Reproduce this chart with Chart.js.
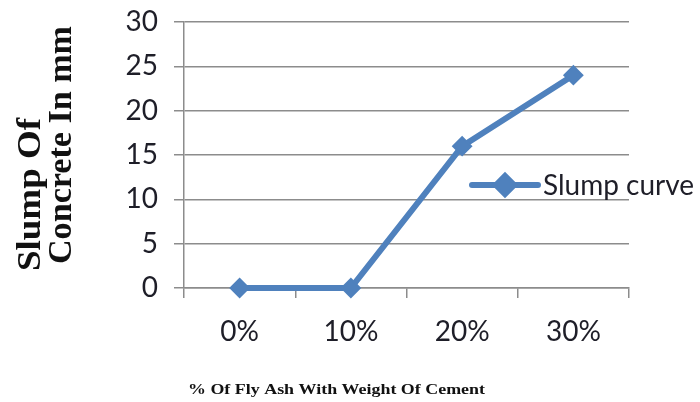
<!DOCTYPE html>
<html>
<head>
<meta charset="utf-8">
<script src="https://cdn.jsdelivr.net/npm/chart.js@4/dist/chart.umd.min.js"></script>
<style>
  html, body { margin: 0; padding: 0; background: #fff; }
  #wrap { width: 700px; height: 402px; position: relative; }
</style>
</head>
<body>
<div id="wrap"><canvas id="c" width="700" height="402"></canvas></div>
<script>
// Slump test results for concrete with fly ash replacement
const categories = ['0%', '10%', '20%', '30%'];
const slumpValues = [0, 0, 16, 24];
const yTicks = [0, 5, 10, 15, 20, 25, 30];
const seriesName = 'Slump curve';
const yTitleLines = ['Slump Of', 'Concrete In mm'];
const xTitle = '% Of Fly Ash With Weight Of Cement';

const BLUE = '#4F81BD';
const GRID = '#8c8c8c';
const TEXT = '#1e1e28';
const TICK_FONT = { family: 'Lato', size: 28 };

// draw a string fitted to a given width
function fitText(ctx, text, x, y, width, rotate) {
  ctx.save();
  ctx.translate(x, y);
  if (rotate) ctx.rotate(-Math.PI / 2);
  ctx.scale(width / ctx.measureText(text).width, 1);
  ctx.fillText(text, 0, 0);
  ctx.restore();
}

// Axis titles and the inline legend are painted on the canvas after the chart
const extras = {
  id: 'extras',
  afterDraw(chart) {
    const ctx = chart.ctx;
    ctx.save();
    // rotated two-line y title, left-aligned in its rotated frame
    ctx.fillStyle = '#111';
    ctx.font = 'bold 34px "Liberation Serif"';
    ctx.textAlign = 'left';
    ctx.textBaseline = 'alphabetic';
    fitText(ctx, yTitleLines[0], 40, 271, 153, true);
    fitText(ctx, yTitleLines[1], 71, 264, 238, true);

    // x title, small condensed bold serif
    ctx.font = 'bold 14px "Liberation Serif"';
    fitText(ctx, xTitle, 188, 394, 297, false);

    // legend entry
    const ds = chart.data.datasets[0];
    const ly = 185;
    ctx.strokeStyle = ds.borderColor;
    ctx.lineWidth = ds.borderWidth;
    ctx.lineCap = 'round';
    ctx.beginPath();
    ctx.moveTo(472, ly);
    ctx.lineTo(538, ly);
    ctx.stroke();
    Chart.helpers.drawPoint(ctx, {
      pointStyle: 'rectRot', radius: ds.pointRadius, borderWidth: ds.pointBorderWidth
    }, 505, ly);
    ctx.fillStyle = ds.pointBackgroundColor;
    ctx.fill();
    ctx.fillStyle = TEXT;
    ctx.font = '28px Lato';
    ctx.textBaseline = 'middle';
    ctx.fillText(seriesName, 543, ly + 1);
    ctx.restore();
  }
};

new Chart(document.getElementById('c'), {
  type: 'line',
  data: {
    labels: categories,
    datasets: [{
      label: seriesName,
      data: slumpValues,
      borderColor: BLUE,
      backgroundColor: BLUE,
      borderWidth: 6,
      pointStyle: 'rectRot',
      pointRadius: 9,
      pointBorderWidth: 2,
      pointBackgroundColor: BLUE,
      pointBorderColor: BLUE,
      tension: 0,
      clip: false
    }]
  },
  options: {
    responsive: false,
    animation: false,
    devicePixelRatio: 1,
    layout: { padding: { left: 0, right: 71, top: 22, bottom: 0 } },
    plugins: { legend: { display: false }, tooltip: { enabled: false } },
    scales: {
      x: {
        type: 'category',
        offset: true,
        grid: {
          offset: true,
          drawOnChartArea: false,
          drawTicks: true,
          tickLength: 10,
          color: GRID,
          lineWidth: 1.5
        },
        border: { display: true, color: GRID, width: 1.5 },
        ticks: { color: TEXT, font: TICK_FONT, padding: 17, maxRotation: 0 },
        afterFit(s) { s.height = 114; s.paddingLeft = 0; s.paddingRight = 0; }
      },
      y: {
        min: 0,
        max: 30,
        afterBuildTicks(s) { s.ticks = yTicks.map(v => ({ value: v })); },
        grid: { color: GRID, lineWidth: 1.5, tickLength: 10 },
        border: { display: true, color: GRID, width: 1.5 },
        ticks: { color: TEXT, font: TICK_FONT, padding: 16 },
        afterFit(s) { s.width = 184; s.paddingTop = 0; s.paddingBottom = 0; }
      }
    }
  },
  plugins: [extras]
});
</script>
</body>
</html>
